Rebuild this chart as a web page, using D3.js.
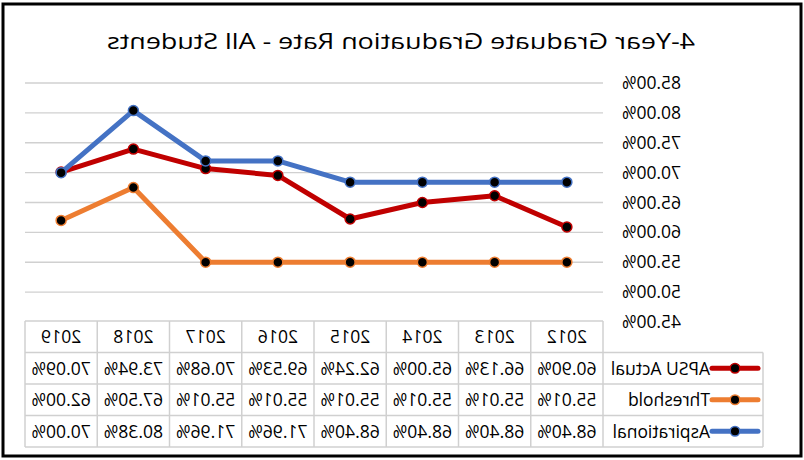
<!DOCTYPE html>
<html>
<head>
<meta charset="utf-8">
<script src="https://cdn.jsdelivr.net/npm/d3@7"></script>
<style>
  body { margin: 0; background: #fff; }
  svg { display: block; }
</style>
</head>
<body>
<svg id="chart"></svg>
<script>
// chart data
var years = ["2012", "2013", "2014", "2015", "2016", "2017", "2018", "2019"];
var apsuActual = [60.90, 66.13, 65.00, 62.24, 69.53, 70.68, 73.94, 70.09];
var threshold = [55.01, 55.01, 55.01, 55.01, 55.01, 55.01, 67.50, 62.00];
var aspirational = [68.40, 68.40, 68.40, 68.40, 71.96, 71.96, 80.38, 70.00];
var seriesNames = ["APSU Actual", "Threshold", "Aspirational"];
var yTicks = [45, 50, 55, 60, 65, 70, 75, 80, 85];

var colors = ["#C00000", "#ED7D31", "#4472C4"];
var allSeries = [apsuActual, threshold, aspirational];

var width = 804, height = 460;
var font = "'Open Sans', 'Liberation Sans', Arial, sans-serif";

var svg = d3.select("#chart")
  .attr("width", width)
  .attr("height", height);

// the whole picture is a mirror image of the chart
var g = svg.append("g")
  .attr("transform", "translate(" + width + ",0) scale(-1,1)");

// outer frame
g.append("rect")
  .attr("x", 3).attr("y", 4)
  .attr("width", 798).attr("height", 452)
  .attr("fill", "#fff")
  .attr("stroke", "#000")
  .attr("stroke-width", 3);

// title
g.append("text")
  .attr("x", 403)
  .attr("y", 49)
  .attr("text-anchor", "middle")
  .attr("textLength", 588)
  .attr("lengthAdjust", "spacingAndGlyphs")
  .style("font-family", font)
  .style("font-size", "22.5px")
  .style("fill", "#000")
  .text("4-Year Graduate Graduation Rate - All Students");

// scales
var x = d3.scaleBand()
  .domain(years)
  .range([201, 779]);

var y = d3.scaleLinear()
  .domain([45, 85])
  .range([322, 83]);

// gridlines
g.append("g")
  .selectAll("line")
  .data(yTicks.filter(function(d) { return d > 45; }))
  .enter()
  .append("line")
  .attr("x1", 201).attr("x2", 779)
  .attr("y1", function(d) { return y(d); })
  .attr("y2", function(d) { return y(d); })
  .attr("stroke", "#d0d0d0")
  .attr("stroke-width", 1.3);

// y axis
var yAxis = g.append("g")
  .attr("transform", "translate(201,0)")
  .call(d3.axisLeft(y)
    .tickValues(yTicks)
    .tickSize(0)
    .tickPadding(19)
    .tickFormat(function(d) { return d.toFixed(2) + "%"; }));
yAxis.select(".domain").remove();
yAxis.selectAll("text")
  .style("font-family", font)
  .style("font-size", "17.5px")
  .style("fill", "#000");

// data table
var tableTop = 321, rowH = 31.5, legendLeft = 41;
var table = g.append("g");
var gridColor = "#d0d0d0";

table.append("line")
  .attr("x1", 201).attr("x2", 779)
  .attr("y1", tableTop).attr("y2", tableTop)
  .attr("stroke", gridColor).attr("stroke-width", 1.5);

[1, 2, 3, 4].forEach(function(i) {
  table.append("line")
    .attr("x1", legendLeft).attr("x2", 779)
    .attr("y1", tableTop + i * rowH).attr("y2", tableTop + i * rowH)
    .attr("stroke", gridColor).attr("stroke-width", 1.5);
});

table.selectAll(".col-line")
  .data(d3.range(years.length + 1))
  .enter()
  .append("line")
  .attr("class", "col-line")
  .attr("x1", function(i) { return 201 + i * x.step(); })
  .attr("x2", function(i) { return 201 + i * x.step(); })
  .attr("y1", tableTop)
  .attr("y2", tableTop + 4 * rowH)
  .attr("stroke", gridColor).attr("stroke-width", 1.5);

table.append("line")
  .attr("x1", legendLeft).attr("x2", legendLeft)
  .attr("y1", tableTop + rowH).attr("y2", tableTop + 4 * rowH)
  .attr("stroke", gridColor).attr("stroke-width", 1.5);

// header years
table.selectAll(".year")
  .data(years)
  .enter()
  .append("text")
  .attr("class", "year")
  .attr("x", function(d) { return x(d) + x.bandwidth() / 2; })
  .attr("y", tableTop + rowH / 2)
  .attr("dy", "0.36em")
  .attr("text-anchor", "middle")
  .style("font-family", font)
  .style("font-size", "17.5px")
  .text(function(d) { return d; });

// value rows + legend keys
allSeries.forEach(function(vals, s) {
  var cy = tableTop + (s + 1.5) * rowH;
  table.selectAll(".val" + s)
    .data(vals)
    .enter()
    .append("text")
    .attr("class", "val" + s)
    .attr("x", function(d, i) { return x(years[i]) + x.bandwidth() / 2; })
    .attr("y", cy)
    .attr("dy", "0.36em")
    .attr("text-anchor", "middle")
    .style("font-family", font)
    .style("font-size", "17.5px")
    .text(function(d) { return d.toFixed(2) + "%"; });

  table.append("line")
    .attr("x1", 46).attr("x2", 92)
    .attr("y1", cy).attr("y2", cy)
    .attr("stroke", colors[s])
    .attr("stroke-width", 5)
    .attr("stroke-linecap", "round");
  table.append("circle")
    .attr("cx", 69).attr("cy", cy).attr("r", 4.8)
    .attr("fill", "#000")
    .attr("stroke", colors[s])
    .attr("stroke-width", 1.5);
  table.append("text")
    .attr("x", 94)
    .attr("y", cy)
    .attr("dy", "0.36em")
    .style("font-family", font)
    .style("font-size", "17.5px")
    .text(seriesNames[s]);
});

// lines and markers
var line = d3.line()
  .x(function(d, i) { return x(years[i]) + x.bandwidth() / 2; })
  .y(function(d) { return y(d); });

allSeries.forEach(function(vals, s) {
  g.append("path")
    .datum(vals)
    .attr("d", line)
    .attr("fill", "none")
    .attr("stroke", colors[s])
    .attr("stroke-width", 5)
    .attr("stroke-linejoin", "round")
    .attr("stroke-linecap", "round");

  g.selectAll(".dot" + s)
    .data(vals)
    .enter()
    .append("circle")
    .attr("class", "dot" + s)
    .attr("cx", function(d, i) { return x(years[i]) + x.bandwidth() / 2; })
    .attr("cy", function(d) { return y(d); })
    .attr("r", 5)
    .attr("fill", "#000")
    .attr("stroke", colors[s])
    .attr("stroke-width", 1.5);
});
</script>
</body>
</html>
